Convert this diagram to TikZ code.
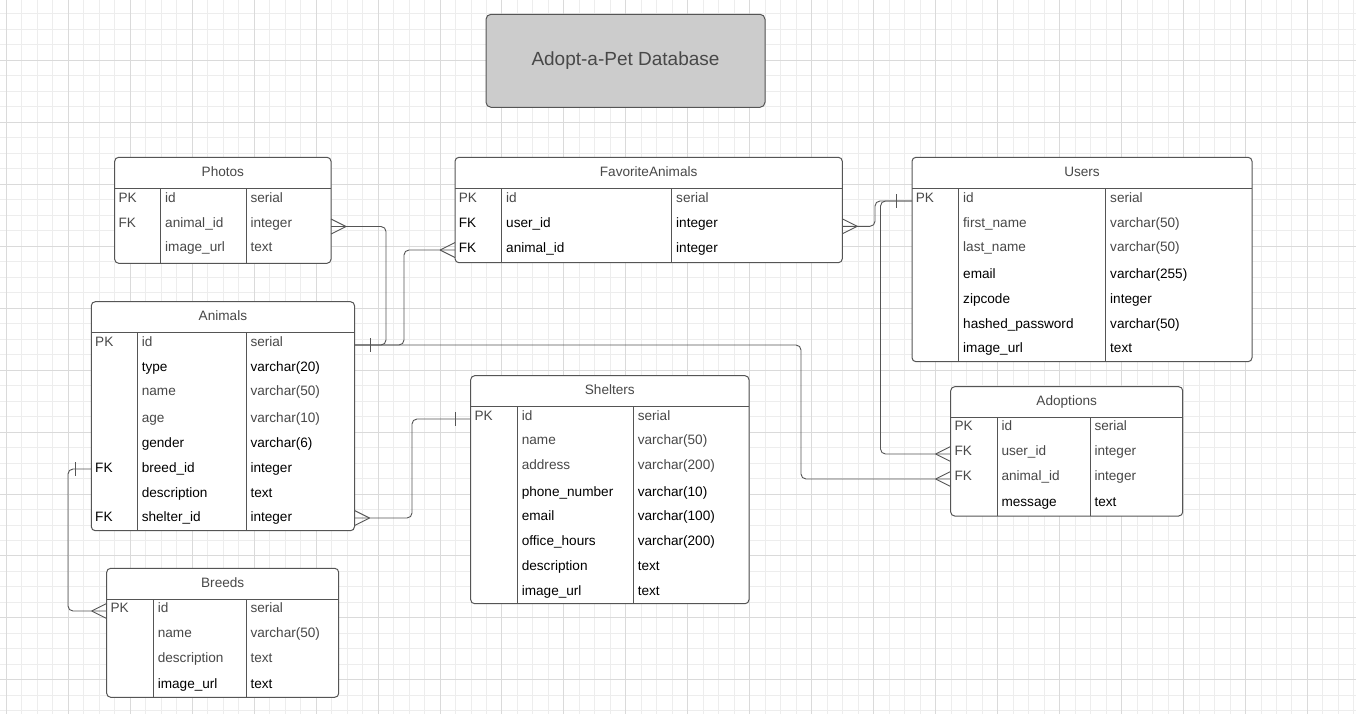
\documentclass[tikz,border=0pt]{standalone}
\usepackage{fontspec}
\setmainfont{Liberation Sans}
\usetikzlibrary{calc}
\definecolor{gridminor}{HTML}{EDEDED}
\definecolor{gridmajor}{HTML}{DADADA}
\definecolor{linec}{HTML}{555555}
\definecolor{txtg}{HTML}{484848}
\definecolor{txtb}{HTML}{000000}
\definecolor{titlefill}{HTML}{CCCCCC}
\newcommand\fsize{\fontsize{13.6}{16}\selectfont}
\tikzset{
 tbl/.style={draw=linec, line width=1pt, rounded corners=4pt, fill=white, inner sep=0pt, outer sep=0pt},
 tsep/.style={draw=linec, line width=1pt},
 hdr/.style={anchor=base, inner sep=0pt, text=txtg, font=\fsize},
 cell/.style={anchor=base west, inner sep=0pt, font=\fsize},
 conn/.style={draw=linec, line width=0.9pt, rounded corners=5pt},
 cf/.style={draw=linec, line width=0.9pt},
}
% table: name, x1, y1, x2, y2, yh, xc1, xc2, title
\newcommand\ertab[9]{%
 \pgfmathsetmacro\tw{#4-#2}\pgfmathsetmacro\th{#5-#3}%
 \node[tbl, minimum width=\tw pt, minimum height=\th pt, anchor=north west] (#1) at (#2,#3) {};
 \draw[tsep] (#2,#6) -- (#4,#6);
 \draw[tsep] (#7,#6) -- (#7,#5);
 \draw[tsep] (#8,#6) -- (#8,#5);
 \pgfmathsetmacro\hx{(#2+#4)/2}\pgfmathsetmacro\hy{(#3+#6)/2+3.5}%
 \node[hdr] (#1-title) at (\hx,\hy) {#9};
 \coordinate (#1-c1) at (#7,#6);
 \coordinate (#1-c2) at (#8,#6);
}
% row: table, id, baseline y, key, field, type, colour
\newcommand\errow[7]{%
 \node[cell, text=#7, xshift=3.7pt] (#1-#2k) at (#1.west |- 0,#3) {#4};
 \node[cell, text=#7, xshift=4.3pt] (#1-#2f) at (#1-c1 |- 0,#3) {#5};
 \node[cell, text=#7, xshift=4.3pt] (#1-#2t) at (#1-c2 |- 0,#3) {#6};
}
\newcommand\many[2]{%
 \draw[cf] ($(#1)+(#2*15,0)$) -- ($(#1)+(0,-7.5)$);
 \draw[cf] ($(#1)+(#2*15,0)$) -- ($(#1)+(0,7.5)$);
}
\newcommand\one[3]{%
 \draw[cf] ($(#1)+(#2*#3,-7)$) -- ($(#1)+(#2*#3,7)$);
}
\begin{document}
\begin{tikzpicture}[x=1pt, y=-1pt]
\useasboundingbox (0,0) rectangle (1356,714);
\fill[white] (0,0) rectangle (1356,714);
% grid
\foreach \k in {0,...,87} {\draw[gridminor, line width=1pt] ({6.3+15.49*\k},0) -- ({6.3+15.49*\k},714);}
\foreach \k in {0,...,46} {\draw[gridminor, line width=1pt] (0,{13.83+15.49*\k}) -- (1356,{13.83+15.49*\k});}
\foreach \k in {0,...,21} {\draw[gridmajor, line width=1pt] ({6.3+61.96*\k},0) -- ({6.3+61.96*\k},714);}
\foreach \k in {0,...,10} {\draw[gridmajor, line width=1pt] (0,{60.3+61.96*\k}) -- (1356,{60.3+61.96*\k});}

% title
\node[draw=linec, fill=titlefill, line width=1pt, rounded corners=5pt, inner sep=0pt, outer sep=0pt,
      minimum width=279pt, minimum height=93pt, anchor=north west,
      text=txtg, font=\fontsize{19}{22}\selectfont, text height=13.6pt, text depth=3.3pt]
      (title) at (486,14.3) {Adopt-a-Pet Database};

% Photos
\ertab{photos}{114.7}{157.3}{331}{263.3}{188.7}{160.7}{246}{Photos}
\errow{photos}{1}{202.7}{PK}{id}{serial}{txtg}
\errow{photos}{2}{227.3}{FK}{animal\_id}{integer}{txtg}
\errow{photos}{3}{251.7}{}{image\_url}{text}{txtg}

% FavoriteAnimals
\ertab{fav}{455}{157.3}{842.3}{262.7}{188.7}{501.7}{671.7}{FavoriteAnimals}
\errow{fav}{1}{202.7}{PK}{id}{serial}{txtg}
\errow{fav}{2}{227.3}{FK}{user\_id}{integer}{txtb}
\errow{fav}{3}{252.7}{FK}{animal\_id}{integer}{txtb}

% Users
\ertab{users}{912}{157.3}{1252}{361.7}{188.7}{958.7}{1105.7}{Users}
\errow{users}{1}{202.7}{PK}{id}{serial}{txtg}
\errow{users}{2}{227.3}{}{first\_name}{varchar(50)}{txtg}
\errow{users}{3}{251.7}{}{last\_name}{varchar(50)}{txtg}
\errow{users}{4}{278.3}{}{email}{varchar(255)}{txtb}
\errow{users}{5}{303.3}{}{zipcode}{integer}{txtb}
\errow{users}{6}{328.3}{}{hashed\_password}{varchar(50)}{txtb}
\errow{users}{7}{352.7}{}{image\_url}{text}{txtb}

% Animals
\ertab{animals}{91.3}{301.7}{354.5}{530.7}{332.7}{137.3}{246}{Animals}
\errow{animals}{1}{346.7}{PK}{id}{serial}{txtg}
\errow{animals}{2}{371.7}{}{type}{varchar(20)}{txtb}
\errow{animals}{3}{395.7}{}{name}{varchar(50)}{txtg}
\errow{animals}{4}{422.7}{}{age}{varchar(10)}{txtg}
\errow{animals}{5}{447.3}{}{gender}{varchar(6)}{txtb}
\errow{animals}{6}{472.3}{FK}{breed\_id}{integer}{txtb}
\errow{animals}{7}{497.3}{}{description}{text}{txtb}
\errow{animals}{8}{521.3}{FK}{shelter\_id}{integer}{txtb}

% Shelters
\ertab{shelters}{470.7}{375.7}{749}{603.7}{406.7}{517.3}{633.3}{Shelters}
\errow{shelters}{1}{420}{PK}{id}{serial}{txtg}
\errow{shelters}{2}{444.3}{}{name}{varchar(50)}{txtg}
\errow{shelters}{3}{469.3}{}{address}{varchar(200)}{txtg}
\errow{shelters}{4}{496.7}{}{phone\_number}{varchar(10)}{txtb}
\errow{shelters}{5}{520}{}{email}{varchar(100)}{txtb}
\errow{shelters}{6}{545}{}{office\_hours}{varchar(200)}{txtb}
\errow{shelters}{7}{570}{}{description}{text}{txtb}
\errow{shelters}{8}{595}{}{image\_url}{text}{txtb}

% Adoptions
\ertab{adopt}{950.7}{386.7}{1182.7}{516}{417.3}{997}{1090}{Adoptions}
\errow{adopt}{1}{430.7}{PK}{id}{serial}{txtg}
\errow{adopt}{2}{455.7}{FK}{user\_id}{integer}{txtg}
\errow{adopt}{3}{480.7}{FK}{animal\_id}{integer}{txtg}
\errow{adopt}{4}{506.7}{}{message}{text}{txtb}

% Breeds
\ertab{breeds}{106.7}{568.3}{338.7}{697.3}{599}{153.3}{246}{Breeds}
\errow{breeds}{1}{612.7}{PK}{id}{serial}{txtg}
\errow{breeds}{2}{637.3}{}{name}{varchar(50)}{txtg}
\errow{breeds}{3}{662.3}{}{description}{text}{txtg}
\errow{breeds}{4}{688.3}{}{image\_url}{text}{txtb}

% connection points
\coordinate (photos-aid) at (photos.east |- 0,226.5);
\coordinate (animals-id) at (animals.east |- 0,345);
\coordinate (fav-aid) at (fav.west |- 0,250);
\coordinate (fav-uid) at (fav.east |- 0,226.3);
\coordinate (users-id) at (users.west |- 0,201);
\coordinate (adopt-uid) at (adopt.west |- 0,454);
\coordinate (adopt-aid) at (adopt.west |- 0,479);
\coordinate (shelters-id) at (shelters.west |- 0,419);
\coordinate (animals-sid) at (animals.east |- 0,518);
\coordinate (animals-bid) at (animals.west |- 0,469);
\coordinate (breeds-id) at (breeds.west |- 0,611);

% connectors
\draw[conn] (photos-aid) -- (386,226.5) -- (386,345) -- (animals-id);
\draw[conn] (animals-id) -- (404,345) -- (404,250) -- (fav-aid);
\draw[conn] (animals-id) -- (801,345) -- (801,479) -- (adopt-aid);
\draw[conn] (users-id) -- (880.5,201) -- (880.5,454) -- (adopt-uid);
\draw[conn] (fav-uid) -- (875,226.3) -- (875,201) -- (users-id);
\draw[conn] (shelters-id) -- (412,419) -- (412,518) -- (animals-sid);
\draw[conn] (animals-bid) -- (68,469) -- (68,611) -- (breeds-id);

% ends
\many{photos-aid}{1}
\many{fav-aid}{-1}
\many{fav-uid}{1}
\many{adopt-uid}{-1}
\many{adopt-aid}{-1}
\many{animals-sid}{1}
\many{breeds-id}{-1}
\one{animals-id}{1}{15.5}
\one{users-id}{-1}{16}
\one{shelters-id}{-1}{15.7}
\one{animals-bid}{-1}{16.3}
\end{tikzpicture}
\end{document}
